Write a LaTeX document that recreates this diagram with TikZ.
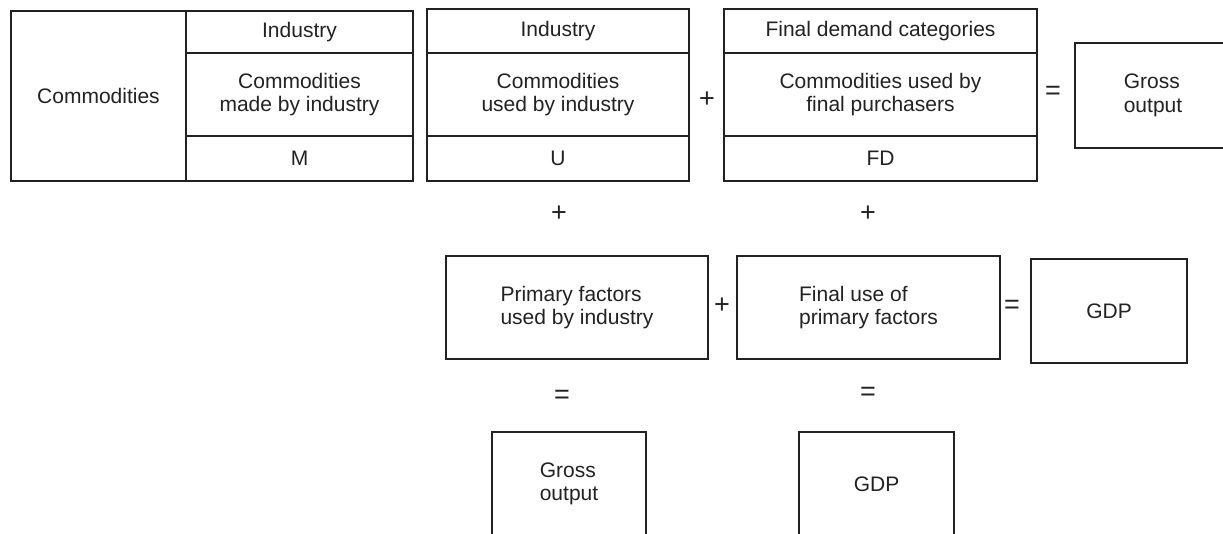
\documentclass[tikz,border=0pt]{standalone}
\usepackage{fontspec}
\setmainfont{Liberation Sans}
\definecolor{ink}{HTML}{222222}
\newcommand\lbl{\fontsize{21}{23.5}\selectfont}
\newcommand\oplbl{\fontsize{27}{30}\selectfont}
\tikzset{
  cell/.style n args={2}{draw=ink, line width=1.7pt, inner sep=0pt,
    minimum width=#1pt, minimum height=#2pt, align=center, font=\lbl, text=ink},
  cellL/.style n args={2}{cell={#1}{#2}, align=left},
  op/.style={inner sep=0pt, font=\oplbl, text=ink}
}
\begin{document}
\begin{tikzpicture}[x=1pt,y=-1pt]
\path[use as bounding box, fill=white] (0,0) rectangle (1223,533);
\clip (0,0) rectangle (1223,533);
% Make table M
\node[cell={175}{170}] (comm) at (98.5,96) {Commodities};
\node[cell={227}{42}]  (mind) at (299.5,32) {Industry};
\node[cell={227}{83}]  (mtxt) at (299.5,94.5) {Commodities\\made by industry};
\node[cell={227}{45}]  (mM)   at (299.5,158.5) {M};
% Use table U
\node[cell={262}{44}]  (uind) at (558,31) {Industry};
\node[cell={262}{83}]  (utxt) at (558,94.5) {Commodities\\used by industry};
\node[cell={262}{45}]  (uU)   at (558,158.5) {U};
\node[op] (p1) at (707,100) {+};
% Final demand table FD
\node[cell={313}{44}]  (find) at (880.5,31) {Final demand categories};
\node[cell={313}{83}]  (ftxt) at (880.5,94.5) {Commodities used by\\final purchasers};
\node[cell={313}{45}]  (fFD)  at (880.5,158.5) {FD};
\node[op] (e1) at (1053,93) {=};
\node[cellL={156}{105}] (gross1) at (1153,95.5) {Gross\\output};
% middle row
\node[op] (p2) at (559,214) {+};
\node[op] (p3) at (868,214) {+};
\node[cellL={262}{103}] (prim) at (577,307.5) {Primary factors\\used by industry};
\node[op] (p4) at (722,306) {+};
\node[cellL={263}{103}] (fuse) at (868.5,307.5) {Final use of\\primary factors};
\node[op] (e2) at (1012,307) {=};
\node[cell={156}{104}] (gdp1) at (1109,311) {GDP};
% bottom row
\node[op] (e3) at (562,397) {=};
\node[op] (e4) at (868,394) {=};
\node[cellL={154}{104}] (gross2) at (569,484) {Gross\\output};
\node[cell={155}{104}] (gdp2) at (876.5,484) {GDP};
\end{tikzpicture}
\end{document}
